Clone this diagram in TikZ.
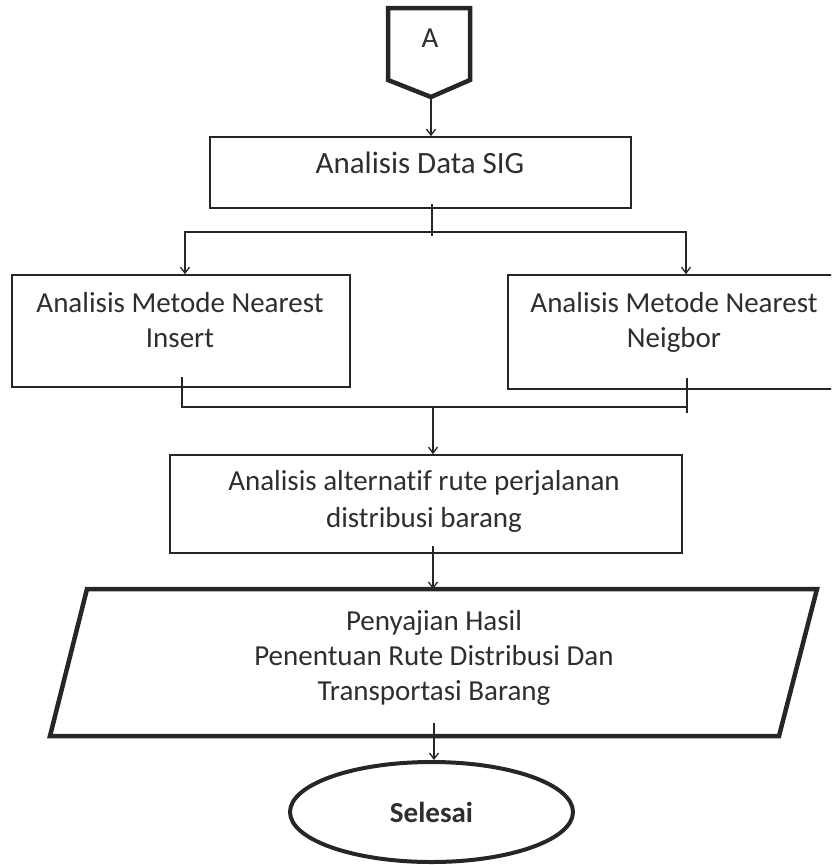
\documentclass[tikz,border=0pt]{standalone}
\usepackage{fontspec}
\setmainfont{Carlito}[Ligatures=NoCommon]
\usetikzlibrary{arrows.meta,shapes.geometric,calc}
\definecolor{ink}{HTML}{262626}
\definecolor{txt}{HTML}{2E2E2E}

\begin{document}
\begin{tikzpicture}[x=1pt,y=-1pt,
  every node/.style={text=txt, font=\fontsize{29}{35}\selectfont},
  procbox/.style={draw=ink, line width=1.6pt, inner sep=0pt},
  flow/.style={draw=ink, line width=1.5pt},
  arr/.style={flow, -{Straight Barb[length=6pt,width=9pt,line width=1.3pt]}},
  heavy/.style={draw=ink, line width=4.5pt, line join=miter},
  lbl/.style={align=center, inner sep=0pt, anchor=base}]

\useasboundingbox (0,0) rectangle (831,865);
\clip (0,0) rectangle (831,865);

% off-page connector A
\coordinate (atip) at (431,97);
\draw[heavy] (388,8) -- (470,8) -- (470,80) -- (atip) -- (388,80) -- cycle;
\node[lbl] (conA) at (430,47) {A};

% process boxes (text nodes are anchored on the baseline of their last line)
\node[procbox, minimum width=421pt, minimum height=71pt] (sig) at (420.5,172.5) {};
\node[lbl, font=\fontsize{31}{35}\selectfont] (sigt) at (420,173) {Analisis Data SIG};

\node[procbox, minimum width=338pt, minimum height=112pt] (lft) at (181,331) {};
\node[lbl] (lftt) at (180,347) {Analisis Metode Nearest\\Insert};

\node[procbox, minimum width=332pt, minimum height=114pt] (rgt) at (674,332) {};
\node[lbl] (rgtt) at (674,347) {Analisis Metode Nearest\\Neigbor};

\node[procbox, minimum width=512pt, minimum height=98pt] (proc) at (426,504) {};
\node[lbl, font=\fontsize{29}{37}\selectfont] (proct) at (424,527) {Analisis alternatif rute perjalanan\\distribusi barang};

% output parallelogram
\coordinate (ptl) at (87,589);
\coordinate (ptr) at (817,589);
\coordinate (pbr) at (779,736);
\coordinate (pbl) at (50,736);
\draw[heavy] (ptl) -- (ptr) -- (pbr) -- (pbl) -- cycle;
\node[lbl] (outt) at (434,700) {Penyajian Hasil\\Penentuan Rute Distribusi Dan\\Transportasi Barang};

% terminator
\node[ellipse, draw=ink, line width=4pt, minimum width=283pt, minimum height=100pt,
      inner sep=0pt, font=\bfseries\fontsize{29}{35}\selectfont] (fin) at (431.5,812) {Selesai};

% connectors
\draw[arr] (atip) -- (atip |- sig.north);

\coordinate (sdrop) at ($(sig.south -| atip)+(1,-5)$);
\coordinate (fork) at (432,232);
\draw[flow] (sdrop) -- ++(0,32);
\draw[arr] (fork) -| ($(lft.north)+(4,0)$);
\draw[arr] (fork) -| ($(rgt.north)+(12,0)$);

\coordinate (join) at (433,407);
\coordinate (ltop) at ($(lft.south)+(1,-11)$);
\coordinate (rtop) at ($(rgt.south)+(13,-12)$);
\draw[flow] (ltop) |- (join);
\draw[flow] (rtop) -- ++(0,35);
\draw[flow] (join) -- (join -| rtop);
\draw[arr] (join) -- (join |- proc.north);

\coordinate (pdrop) at ($(proc.south)+(7,-8)$);
\draw[arr] (pdrop) -- (pdrop |- ptl);

\coordinate (edrop) at (434,723);
\draw[arr] (edrop) -- (edrop |- fin.north);
\end{tikzpicture}
\end{document}
